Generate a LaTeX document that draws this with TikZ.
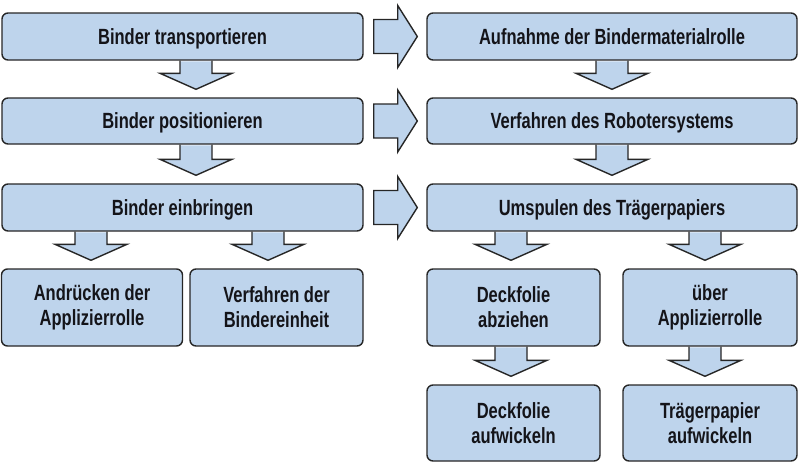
\documentclass[tikz,border=0pt]{standalone}
\usepackage{fontspec}
\setmainfont{Liberation Sans}
\newfontfamily\labfont[FakeStretch=0.75]{Liberation Sans Bold}
\usetikzlibrary{calc}
\definecolor{boxblue}{RGB}{190,212,236}
\definecolor{edgegray}{RGB}{38,38,38}
\definecolor{txt}{RGB}{20,20,25}
\tikzset{
  box/.style={draw=edgegray, fill=boxblue, line width=1.4pt, rounded corners=6pt,
    align=center, text=txt, font=\labfont\fontsize{22}{25}\selectfont, inner sep=0pt},
  oneline/.style={text depth=0pt},
  arrfill/.style={fill=boxblue},
  arrline/.style={draw=edgegray, line width=1.4pt, line join=miter},
}
\newcommand{\darr}[3]{%
  \fill[arrfill] let \p1=(#1.south),\p2=(#2.north) in
    (#3pt-16pt,\y1-0.7pt) -- (#3pt-16pt,\y2+24pt) -- (#3pt-36pt,\y2+24pt) -- (#3pt,\y2+8pt)
    -- (#3pt+36pt,\y2+24pt) -- (#3pt+16pt,\y2+24pt) -- (#3pt+16pt,\y1-0.7pt) -- cycle;
  \draw[arrline] let \p1=(#1.south),\p2=(#2.north) in
    (#3pt-16pt,\y1) -- (#3pt-16pt,\y2+24pt) -- (#3pt-36pt,\y2+24pt) -- (#3pt,\y2+8pt)
    -- (#3pt+36pt,\y2+24pt) -- (#3pt+16pt,\y2+24pt) -- (#3pt+16pt,\y1);
}
\newcommand{\harr}[2]{%
  \draw[arrline, arrfill] let \p1=(#1.east),\p2=(#2.west) in
    (\x1+10pt,\y1+17pt) -- (\x1+34pt,\y1+17pt) -- (\x1+34pt,\y1+31pt) -- (\x2-9pt,\y1)
    -- (\x1+34pt,\y1-31pt) -- (\x1+34pt,\y1-17pt) -- (\x1+10pt,\y1-17pt) -- cycle;
}
\begin{document}
\begin{tikzpicture}[x=1pt,y=-1pt]
\useasboundingbox (0,0) rectangle (800,464);
% left column
\node[box, oneline, minimum width=361pt, minimum height=47pt] (l1) at (182.5,36.5) {Binder transportieren};
\node[box, oneline, minimum width=361pt, minimum height=46pt] (l2) at (182.5,121) {Binder positionieren};
\node[box, oneline, minimum width=361pt, minimum height=47pt] (l3) at (182.5,207.5) {Binder einbringen};
\node[box, minimum width=181pt, minimum height=77pt] (l4) at (92,307.5) {Andrücken der\\Applizierrolle};
\node[box, minimum width=173pt, minimum height=77pt] (l5) at (276.5,307.5) {Verfahren der\\Bindereinheit};
% right column
\node[box, oneline, minimum width=370pt, minimum height=47pt] (r1) at (612,36.5) {Aufnahme der Bindermaterialrolle};
\node[box, oneline, minimum width=370pt, minimum height=46pt] (r2) at (612,121) {Verfahren des Robotersystems};
\node[box, oneline, minimum width=370pt, minimum height=47pt] (r3) at (612,207.5) {Umspulen des Trägerpapiers};
\node[box, minimum width=173pt, minimum height=77pt] (r4) at (513.5,307.5) {Deckfolie\\abziehen};
\node[box, minimum width=174pt, minimum height=77pt] (r5) at (710,307.5) {über\\Applizierrolle};
\node[box, minimum width=173pt, minimum height=76pt] (r6) at (513.5,423) {Deckfolie\\aufwickeln};
\node[box, minimum width=174pt, minimum height=76pt] (r7) at (710,423) {Trägerpapier\\aufwickeln};
% down arrows
\darr{l1}{l2}{196}
\darr{l2}{l3}{196}
\darr{l3}{l4}{91}
\darr{l3}{l5}{268}
\darr{r1}{r2}{612}
\darr{r2}{r3}{612}
\darr{r3}{r4}{511}
\darr{r3}{r5}{705}
\darr{r4}{r6}{511}
\darr{r5}{r7}{705}
% right arrows
\harr{l1}{r1}
\harr{l2}{r2}
\harr{l3}{r3}
\end{tikzpicture}
\end{document}
